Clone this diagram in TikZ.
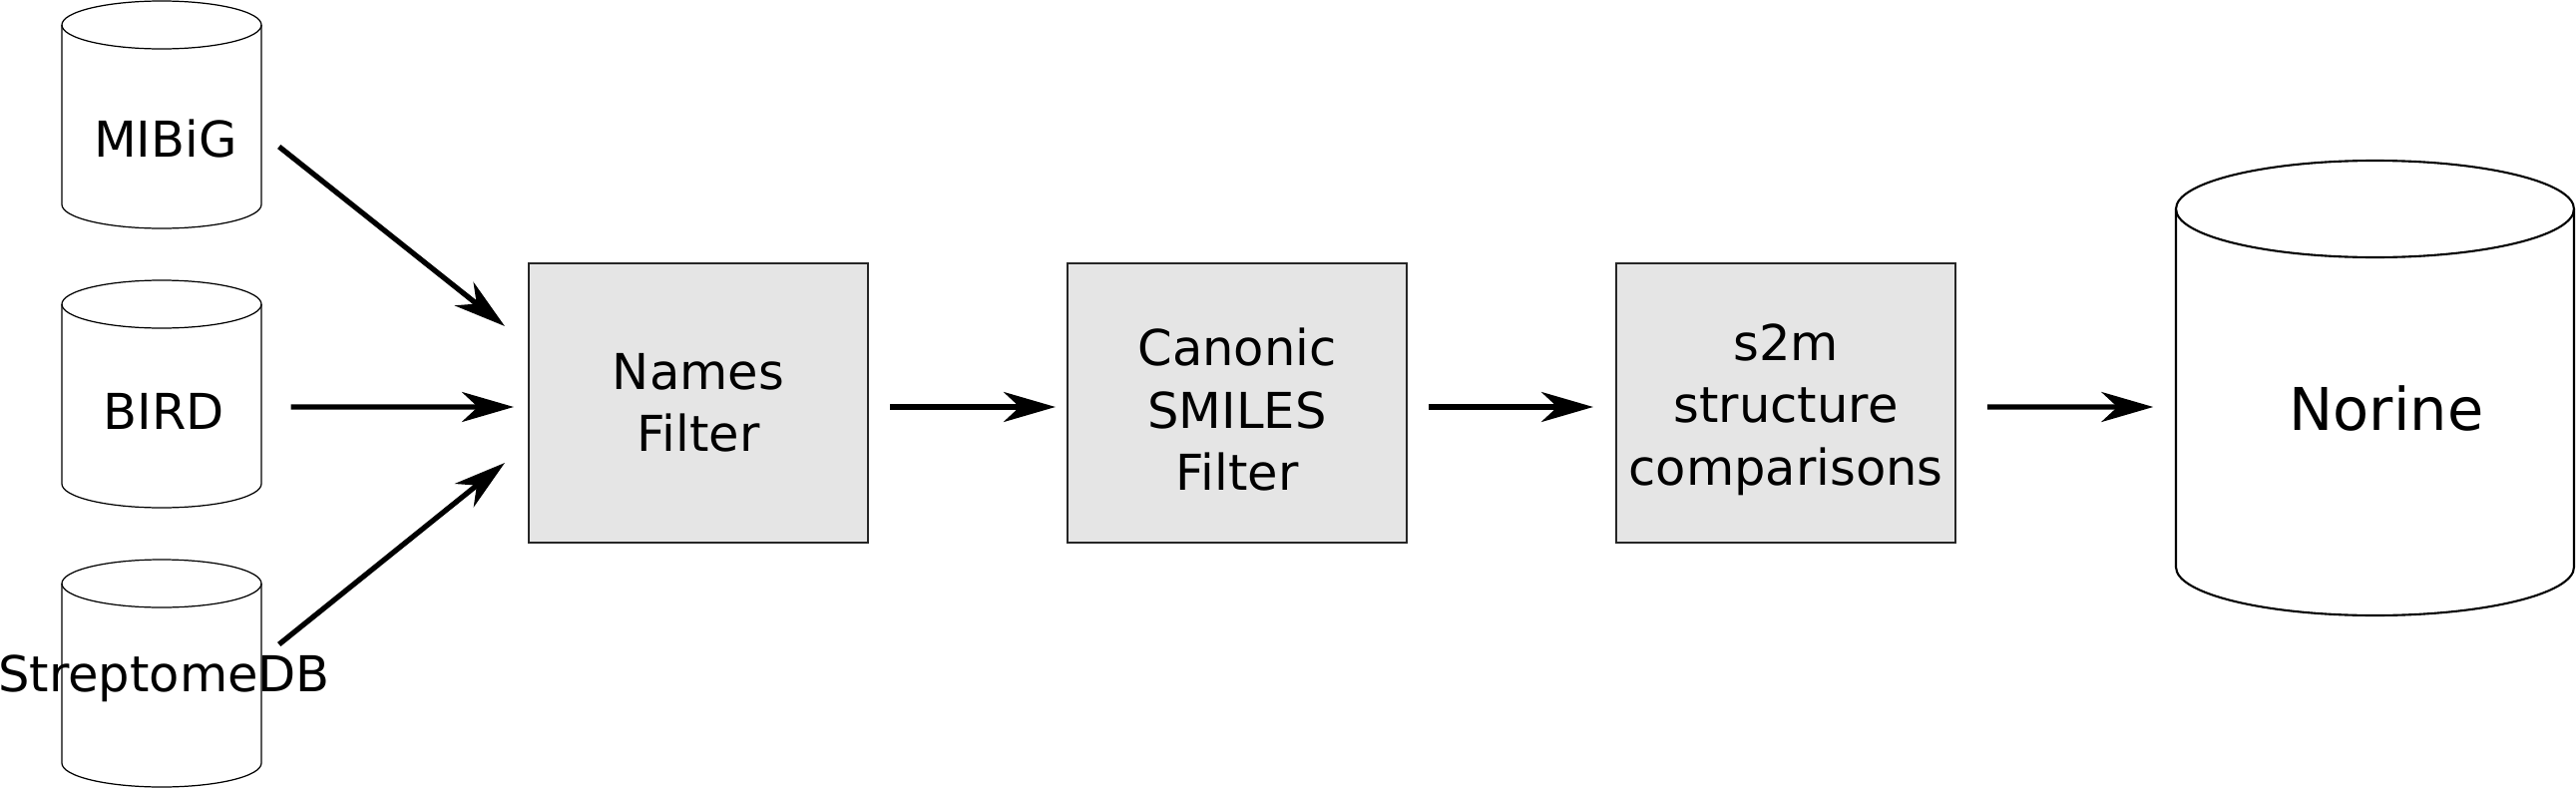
\documentclass[tikz,border=0pt]{standalone}
\usepackage{fontspec}
\setmainfont{DejaVu Sans}
\usetikzlibrary{arrows.meta,calc}

\newcommand{\labelfont}{\fontsize{14.1pt}{17.8pt}\selectfont}
\newcommand{\bigfont}{\fontsize{16.8pt}{20pt}\selectfont}

% цилиндр вокруг узла: #2 - узел, #3 - радиус, #4 - половина стенки, #5 - полуось крышки
\newcommand{\dbdraw}[5][]{%
	\draw [#1] ($(#2.center)+(-#3,#4)$) -- ++(0,-2*#4)
		arc [start angle=180, end angle=360, x radius=#3, y radius=#5] -- ++(0,2*#4);
	\draw [#1] ($(#2.center)+(0,#4)$) ellipse [x radius=#3, y radius=#5];
}

\tikzset{
	dbase/.style={rectangle, minimum width=2cm, minimum height=2.28cm, inner sep=0pt},
	dbline/.style={line width=0.35pt},
	dbname/.style={anchor=base, font=\labelfont, inner sep=0pt},
	filterbox/.style={rectangle, draw=black!85, line width=0.6pt, fill=gray!20,
		minimum width=3.4cm, minimum height=2.8cm, align=center, font=\labelfont, inner sep=0pt},
	flowarrow/.style={-{Stealth[length=0.52cm,width=0.30cm,inset=0.16cm]}, line width=1.5pt}
}

\begin{document}
\begin{tikzpicture}
	\useasboundingbox ( 0.00, 0.00 ) rectangle ( 25.82, 7.90 );

	% базы данных
	\node [dbase] (mibig) at ( 1.62, 6.75 ) {};
	\node [dbase] (bird) at ( 1.62, 3.95 ) {};
	\node [dbase] (strepto) at ( 1.62, 1.15 ) {};
	\node [dbase, minimum width=3.99cm, minimum height=4.56cm] (norine) at ( 23.805, 4.01 ) {};

	\dbdraw[dbline]{mibig}{1.00}{0.90}{0.24}
	\dbdraw[dbline]{bird}{1.00}{0.90}{0.24}
	\dbdraw[dbline]{strepto}{1.00}{0.90}{0.24}
	\dbdraw[line width=0.6pt]{norine}{1.995}{1.795}{0.485}

	\node [dbname] (mibig-t) at ( 1.66, 6.33 ) {MIBiG};
	\node [dbname] (bird-t) at ( 1.645, 3.60 ) {BIRD};
	\node [dbname] (strepto-t) at ( 1.645, 0.97 ) {StreptomeDB};
	\node [dbname, font=\bigfont] (norine-t) at ( 23.92, 3.59 ) {Norine};

	% фильтры
	\node [filterbox] (names) at ( 7.00, 3.86 ) {Names\\Filter};
	\node [filterbox] (canonic) at ( 12.40, 3.86 ) {\rule{0pt}{0.51cm}Canonic\\SMILES\\Filter};
	\node [filterbox] (s2m) at ( 17.90, 3.86 ) {\rule{0pt}{0.5cm}s2m\\structure\\comparisons};

	% стрелки
	\draw [flowarrow] ($(mibig.east)+(0.17,-0.32)$) -- ($(names.west)+(-0.23,0.77)$);
	\draw [flowarrow] ($(bird.east)+(0.29,-0.13)$) -- ($(names.west)+(-0.14,-0.04)$);
	\draw [flowarrow] ($(strepto.east)+(0.17,0.29)$) -- ($(names.west)+(-0.23,-0.60)$);
	\draw [flowarrow] ($(names.east)+(0.21,-0.04)$) -- ($(canonic.west)+(-0.11,-0.04)$);
	\draw [flowarrow] ($(canonic.east)+(0.21,-0.04)$) -- ($(s2m.west)+(-0.22,-0.04)$);
	\draw [flowarrow] ($(s2m.east)+(0.31,-0.04)$) -- ($(norine.west)+(-0.22,-0.19)$);
\end{tikzpicture}
\end{document}
